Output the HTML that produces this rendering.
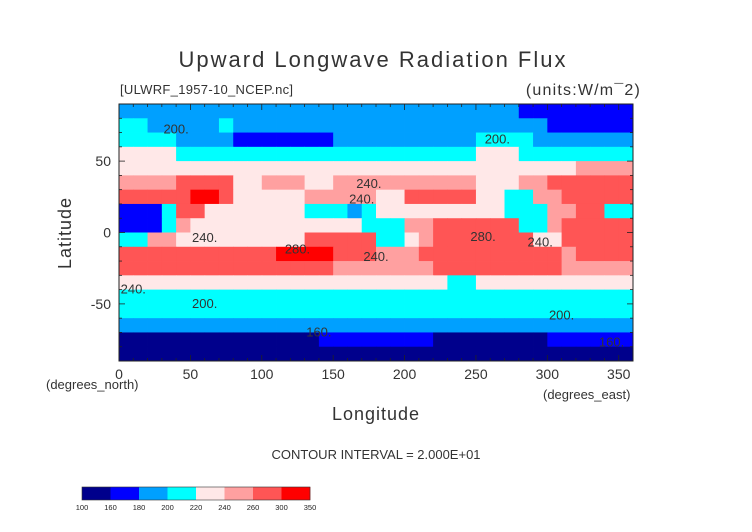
<!DOCTYPE html>
<html><head><meta charset="utf-8"><style>
body{margin:0;background:#fff;}
svg{display:block;font-family:"Liberation Sans",sans-serif;}
</style></head><body>
<svg id="chart" width="752" height="532" viewBox="0 0 752 532" xmlns="http://www.w3.org/2000/svg">
<rect width="752" height="532" fill="#fff"/>
<text x="373" y="67" text-anchor="middle" font-size="22" fill="#333" letter-spacing="2">Upward Longwave Radiation Flux</text>
<text x="120" y="94" font-size="13" fill="#333" letter-spacing="0.3">[ULWRF_1957-10_NCEP.nc]</text>
<text x="641" y="95" text-anchor="end" font-size="16" fill="#333" letter-spacing="1.2">(units:W/m¯2)</text>
<g id="cells"></g>
<g id="labels" font-size="13" fill="#333"></g>
<rect x="119" y="104" width="514" height="257" fill="none" stroke="#222" stroke-width="1"/>
<g id="ticks"></g>
<text transform="translate(71,233) rotate(-90)" text-anchor="middle" font-size="18" fill="#333" letter-spacing="1">Latitude</text>
<text x="46" y="389" font-size="13" fill="#333">(degrees_north)</text>
<text x="543" y="399" font-size="13" fill="#333">(degrees_east)</text>
<text x="376" y="420" text-anchor="middle" font-size="18" fill="#333" letter-spacing="1">Longitude</text>
<text x="376" y="459" text-anchor="middle" font-size="13" fill="#333">CONTOUR INTERVAL = 2.000E+01</text>
<g id="cbar"></g>
</svg>
<script>
const levelBounds = [100,160,180,200,220,240,260,300,350];
const levelColors = ["#00008c","#0000ff","#00a0ff","#00ffff","#ffe8e8","#ffa0a0","#ff5555","#ff0000"];
const latTops = [90,80,70,60,50,40,30,20,10,0,-10,-20,-30,-40,-50,-60,-70,-80];
const levelRows = [
"222222222222222222222222222211111111",
"332222232222222222222222222222111111",
"333322221111111222222222233332222222",
"444433333333333333333333344433333333",
"444444444444444444444444444444445555",
"555566664455544555555555544455666666",
"666667764444455555446666644335566666",
"111366444444433323444444444333556633",
"111354444444444443335566666633566666",
"335544444444466666334566666664466666",
"666666666667777666555666666666656666",
"666666666666666555555566666666655555",
"444444444444444444444443344444444444",
"333333333333333333333333333333333333",
"333333333333333333333333333333333333",
"222222222222222222222222222222222222",
"000000000000001111111100000000111111",
"000000000000000000000000000000000000"
];
const xTicks = [0,50,100,150,200,250,300,350];
const yTicks = [50,0,-50];
const contourLabels = [["200.",40,72],["200.",265,65],["240.",175,34],["240.",170,23],["240.",60,-4],["280.",125,-12],["280.",255,-3],["240.",295,-7],["240.",180,-17],["240.",10,-40],["200.",60,-50],["200.",310,-58],["160.",140,-70],["160.",345,-77]];
const NS="http://www.w3.org/2000/svg";
const X0=119,X1=633,Y0=104,Y1=361;
function xs(lon){return X0+(lon/360)*(X1-X0);}
function ys(lat){return Y0+((90-lat)/180)*(Y1-Y0);}
function mk(tag,attrs,parent){const e=document.createElementNS(NS,tag);for(const k in attrs)e.setAttribute(k,attrs[k]);parent.appendChild(e);return e;}
const cells=document.getElementById('cells');
levelRows.forEach((row,ri)=>{
  const top=latTops[ri];
  for(let ci=0;ci<row.length;ci++){
    const lv=+row[ci];
    const lon=ci*10;
    const r=mk('rect',{x:xs(lon),y:ys(top),width:xs(lon+10)-xs(lon)+0.4,height:ys(top-10)-ys(top)+0.4,fill:levelColors[lv]},cells);
    
    
  }
});
const lab=document.getElementById('labels');
contourLabels.forEach(c=>{
  const t=mk('text',{x:xs(c[1]),y:ys(c[2])+4,'text-anchor':'middle'},lab);
  t.textContent=c[0];
  
  
});
const tk=document.getElementById('ticks');
for(let lon=10;lon<360;lon+=10){
  const len=lon%50===0?6:3;
  const a=mk('line',{x1:xs(lon),x2:xs(lon),y1:Y1,y2:Y1-len,stroke:'#222','stroke-width':0.8},tk);
  
  
  const b=mk('line',{x1:xs(lon),x2:xs(lon),y1:Y0,y2:Y0+len,stroke:'#222','stroke-width':0.8},tk);
  
  
}
for(let lat=-80;lat<90;lat+=10){
  const len=lat%50===0?6:3;
  const a=mk('line',{x1:X0,x2:X0+len,y1:ys(lat),y2:ys(lat),stroke:'#222','stroke-width':0.8},tk);
  
  
  const b=mk('line',{x1:X1,x2:X1-len,y1:ys(lat),y2:ys(lat),stroke:'#222','stroke-width':0.8},tk);
  
  
}
xTicks.forEach(v=>{
  const t=mk('text',{x:xs(v),y:379,'text-anchor':'middle','font-size':14,fill:'#333'},tk);
  t.textContent=v;
  
  
});
yTicks.forEach(v=>{
  const t=mk('text',{x:111,y:ys(v)+5,'text-anchor':'end','font-size':14,fill:'#333'},tk);
  t.textContent=v;
  
  
});
const cb=document.getElementById('cbar');
const cbX0=82,cbX1=310,cbY=487,cbH=13;
const segW=(cbX1-cbX0)/levelColors.length;
levelColors.forEach((c,i)=>{
  const r=mk('rect',{x:cbX0+i*segW,y:cbY,width:segW+0.3,height:cbH,fill:c},cb);
  
  
});
mk('rect',{x:cbX0,y:cbY,width:cbX1-cbX0,height:cbH,fill:'none',stroke:'#333','stroke-width':0.6},cb);
levelBounds.forEach((v,i)=>{
  const t=mk('text',{x:cbX0+i*segW,y:510,'text-anchor':'middle','font-size':7.5,fill:'#222'},cb);
  t.textContent=v;
  
  
});
</script>
</body></html>
